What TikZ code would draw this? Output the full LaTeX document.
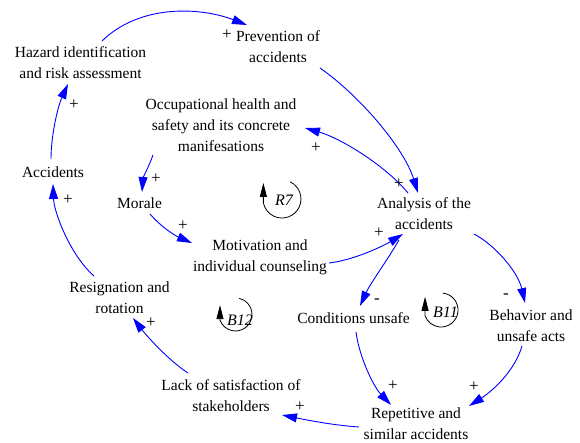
\documentclass[tikz,border=0pt]{standalone}
\usepackage{fontspec}
\setmainfont{Liberation Serif}
\usetikzlibrary{arrows.meta}
\begin{document}
\begin{tikzpicture}[x=1bp,y=-1bp,
  var/.style={align=center, inner sep=0pt, text=black,
    font=\fontsize{15.5bp}{21bp}\selectfont},
  sign/.style={inner sep=0pt, font=\fontsize{17bp}{19bp}\selectfont},
  loopname/.style={inner sep=0pt, font=\fontsize{16bp}{18bp}\selectfont\itshape},
  link/.style={draw=blue, line width=0.9bp, -{Triangle[length=15bp,width=9bp]}},
  loopmark/.style={draw=black, line width=0.8bp, -{Triangle[length=14bp,width=7bp]}},
]
\useasboundingbox (0,0) rectangle (580,443);

% variables
\node[var] (hazard) at (80.5,63)    {Hazard identification\\and risk assessment};
\node[var] (prev)   at (278,47)     {Prevention of\\accidents};
\node[var] (ohs)    at (221,125.5)  {Occupational health and\\safety and its concrete\\manifesations};
\node[var] (acc)    at (53,171.7)   {Accidents};
\node[var] (morale) at (139.5,202.7){Morale};
\node[var] (anal)   at (424,213.5)  {Analysis of the\\accidents};
\node[var] (motiv)  at (260,257)    {Motivation and\\individual counseling};
\node[var] (resig)  at (119.5,297.2){Resignation and\\rotation};
\node[var] (cond)   at (353.5,317.7){Conditions unsafe};
\node[var] (behav)  at (531,325.2)  {Behavior and\\unsafe acts};
\node[var] (lack)   at (231,395.2)  {Lack of satisfaction of\\stakeholders};
\node[var] (rep)    at (416,424)    {Repetitive and\\similar accidents};

% loop identifiers
\node[loopname] (r7)  at (284,200)   {R7};
\node[loopname] (b12) at (240,320)   {B12};
\node[loopname] (b11) at (445.5,312) {B11};

\draw[loopmark] ([shift={(6,-18.2)}]r7.center) arc[start angle=65, end angle=-168, radius=19bp] -- ++(0,-20);
\draw[loopmark] ([shift={(-0.8,-21.6)}]b12.center) arc[start angle=77, end angle=-160, radius=16.5bp] -- ++(0,-15);
\draw[loopmark] ([shift={(-2.7,-18.9)}]b11.center) arc[start angle=84, end angle=-160, radius=17bp] -- ++(0,-19);

% causal links
\draw[link] ([shift={(21.5,-22)}]hazard.center) .. controls +(38,-37) and +(-47,-18) .. ([shift={(-31,-22)}]prev.center);
\draw[link] ([shift={(42,21)}]prev.center) .. controls +(40,28) and +(-14,-45) .. ([shift={(-6,-20.5)}]anal.center);
\draw[link] ([shift={(-16,-20.5)}]anal.center) .. controls +(-23,-28) and +(35,10) .. ([shift={(84,2.5)}]ohs.center);
\draw[link] ([shift={(-68,29.5)}]ohs.center) .. controls +(-4,11) and +(1,-14) .. ([shift={(2.5,-10.7)}]morale.center);
\draw[link] ([shift={(10.5,11.3)}]morale.center) .. controls +(12,14) and +(-16,-7) .. ([shift={(-68,-14)}]motiv.center);
\draw[link] ([shift={(69,6)}]motiv.center) .. controls +(26,-3) and +(-18,11) .. ([shift={(-21,20.5)}]anal.center);
\draw[link] ([shift={(-25,26.5)}]anal.center) .. controls +(-9,16) and +(10,-22) .. ([shift={(6.5,-11.7)}]cond.center);
\draw[link] ([shift={(50,20.5)}]anal.center) .. controls +(21,11) and +(-7,-31) .. ([shift={(-6,-22.2)}]behav.center);
\draw[link] ([shift={(2.5,14.3)}]cond.center) .. controls +(3,24) and +(-18,-19) .. ([shift={(-25,-19)}]rep.center);
\draw[link] ([shift={(-9,20.8)}]behav.center) .. controls +(-7,24) and +(25,-16) .. ([shift={(53,-18)}]rep.center);
\draw[link] ([shift={(-57,3)}]rep.center) .. controls +(-29,-2) and +(20,4) .. ([shift={(51,19.8)}]lack.center);
\draw[link] ([shift={(-43,-22.2)}]lack.center) .. controls +(-20,-13) and +(13,17) .. ([shift={(13.5,20.8)}]resig.center);
\draw[link] ([shift={(-25.5,-21.2)}]resig.center) .. controls +(-24,-21) and +(1,28) .. ([shift={(0,12.3)}]acc.center);
\draw[link] ([shift={(-2,-12.7)}]acc.center) .. controls +(0,-24) and +(-10,22) .. ([shift={(-12.5,21)}]hazard.center);

% link polarities
\node[sign] (s-hp) at (227,35)  {+};
\node[sign] (s-pa) at (399,184) {+};
\node[sign] (s-ao) at (316,148) {+};
\node[sign] (s-om) at (156,179) {+};
\node[sign] (s-mm) at (183,226) {+};
\node[sign] (s-ma) at (379,233) {+};
\node[sign] (s-ah) at (74,105)  {+};
\node[sign] (s-ra) at (68,200)  {+};
\node[sign] (s-ac) at (377,301) {-};
\node[sign] (s-ab) at (506,296) {-};
\node[sign] (s-cr) at (393,386) {+};
\node[sign] (s-br) at (474,387) {+};
\node[sign] (s-rl) at (300,407) {+};
\node[sign] (s-lr) at (151,323) {+};
\end{tikzpicture}
\end{document}
